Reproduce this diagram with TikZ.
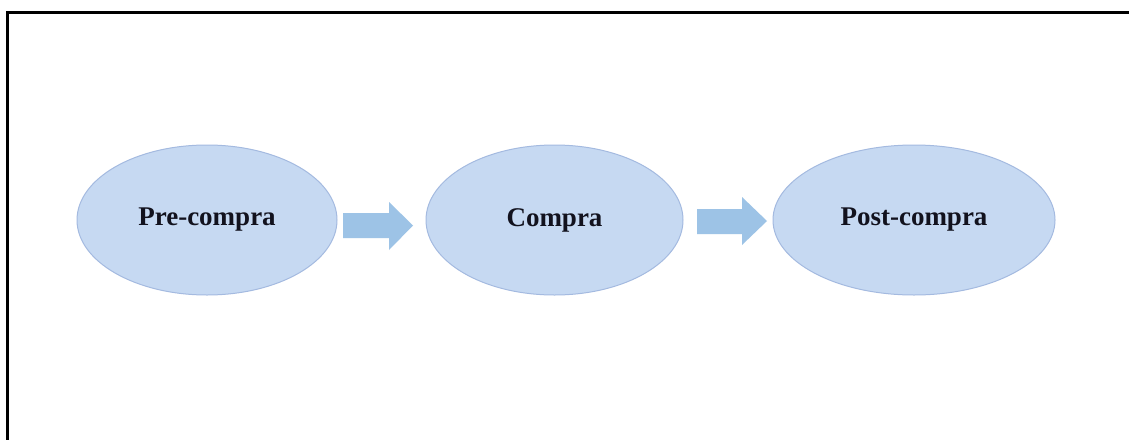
\documentclass[tikz,border=0pt]{standalone}
\usepackage{fontspec}
\setmainfont{Liberation Serif}
\usetikzlibrary{shapes.geometric}
\definecolor{stagefill}{RGB}{198,217,242}
\definecolor{stageline}{RGB}{164,186,224}
\definecolor{flowfill}{RGB}{157,195,230}
\definecolor{stagetext}{RGB}{18,18,30}
\tikzset{
  stage/.style={ellipse, fill=stagefill, draw=stageline, line width=1pt,
    inner sep=0pt, font=\fontsize{27}{30}\selectfont\bfseries, text=stagetext},
  flow/.style={fill=flowfill, draw=none},
  frameline/.style={draw=black, line width=3pt, line cap=rect}
}
\begin{document}
\begin{tikzpicture}[x=1pt, y=-1pt]
  \useasboundingbox (0,0) rectangle (1129,439);
  \fill[white] (0,0) rectangle (1129,439);
  % frame
  \coordinate (fbl) at (7.5,445);
  \coordinate (ftl) at (7.5,12);
  \coordinate (ftr) at (1135,12);
  \draw[frameline] (fbl) -- (ftl) -- (ftr);
  % stages
  \node[stage, minimum width=260pt, minimum height=150pt] (pre) at (207,220) {Pre-compra};
  \node[stage, minimum width=257pt, minimum height=150pt] (buy) at (554.5,220) {Compra};
  \node[stage, minimum width=282pt, minimum height=150pt] (post) at (914,220) {Post-compra};
  % block arrows between stages
  \coordinate (a1) at (343,225.5);
  \coordinate (a2) at (697,221.5);
  \fill[flow] (a1) ++(0,-12.5) -- ++(46,0) -- ++(0,-11) -- ++(24,23.5)
    -- ++(-24,24.5) -- ++(0,-12) -- ++(-46,0) -- cycle;
  \fill[flow] (a2) ++(0,-12.5) -- ++(45,0) -- ++(0,-12) -- ++(25,24)
    -- ++(-25,24) -- ++(0,-11) -- ++(-45,0) -- cycle;
\end{tikzpicture}
\end{document}
